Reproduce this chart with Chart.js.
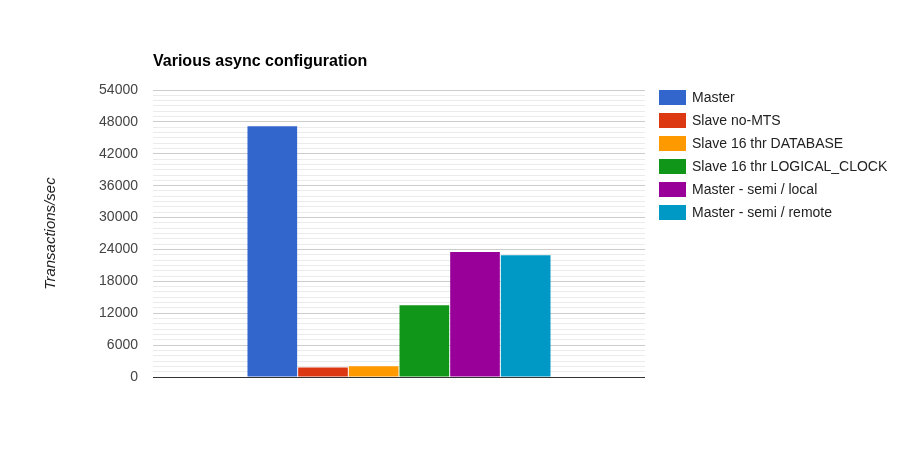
<!DOCTYPE html>
<html>
<head>
<meta charset="utf-8">
<script src="https://cdn.jsdelivr.net/npm/chart.js@4.4.1/dist/chart.umd.min.js"></script>
<style>
  html, body { margin: 0; padding: 0; background: #fff; }
  #wrap { width: 907px; height: 468px; }
</style>
</head>
<body>
<div id="wrap"><canvas id="myChart"></canvas></div>
<script>
// data
const chartTitle = 'Various async configuration';
const categories = [''];
const seriesNames = ['Master', 'Slave no-MTS', 'Slave 16 thr DATABASE', 'Slave 16 thr LOGICAL_CLOCK', 'Master - semi / local', 'Master - semi / remote'];
const seriesValues = [47200, 1800, 2000, 13500, 23500, 22900];
const seriesColors = ['#3366cc', '#dc3912', '#ff9900', '#109618', '#990099', '#0099c6'];
const yMax = 54000;
const yMajorStep = 6000;
const yMinorStep = 1000;

const FONT = '"Liberation Sans", Arial, sans-serif';

// title + legend drawn google-style
const decorPlugin = {
  id: 'decor',
  afterDraw(chart) {
    const ctx = chart.ctx;
    const area = chart.chartArea;
    ctx.save();
    ctx.fillStyle = '#000';
    ctx.font = 'bold 16px ' + FONT;
    ctx.textBaseline = 'alphabetic';
    ctx.textAlign = 'left';
    ctx.fillText(chartTitle, area.left, 66);

    ctx.font = '14px ' + FONT;
    ctx.textBaseline = 'middle';
    seriesNames.forEach((name, i) => {
      const y = 97 + i * 23;
      ctx.fillStyle = seriesColors[i];
      ctx.fillRect(659, y - 7, 27, 15);
      ctx.fillStyle = '#222';
      ctx.fillText(name, 692, y + 1);
    });
    ctx.restore();
  }
};

const ctx = document.getElementById('myChart').getContext('2d');
new Chart(ctx, {
  type: 'bar',
  data: {
    labels: categories,
    datasets: seriesNames.map((name, i) => ({
      label: name,
      data: [seriesValues[i]],
      backgroundColor: seriesColors[i],
      borderWidth: 0,
      categoryPercentage: 0.618,
      barPercentage: 0.98
    }))
  },
  options: {
    responsive: true,
    maintainAspectRatio: false,
    animation: false,
    layout: { padding: { left: 0, right: 262, top: 90, bottom: 91 } },
    plugins: {
      legend: { display: false },
      title: { display: false },
      tooltip: { enabled: false }
    },
    scales: {
      x: {
        afterFit(scale) { scale.height = 0; },
        ticks: { display: false },
        grid: { display: false },
        border: { display: false }
      },
      y: {
        min: 0,
        max: yMax,
        afterFit(scale) { scale.width = 153; },
        border: { display: false },
        grid: {
          drawTicks: false,
          color: c => c.tick.value === 0 ? '#333333' : (c.tick.value % yMajorStep === 0 ? '#cccccc' : '#ebebeb')
        },
        ticks: {
          stepSize: yMinorStep,
          maxTicksLimit: 100,
          autoSkip: false,
          padding: 15,
          color: '#444',
          font: { family: FONT, size: 14 },
          callback: v => v % yMajorStep === 0 ? String(v) : ''
        },
        title: {
          display: true,
          text: 'Transactions/sec',
          color: '#222',
          font: { family: FONT, size: 15, style: 'italic' },
          padding: { top: 42, bottom: 0 }
        }
      }
    }
  },
  plugins: [decorPlugin]
});
</script>
</body>
</html>
